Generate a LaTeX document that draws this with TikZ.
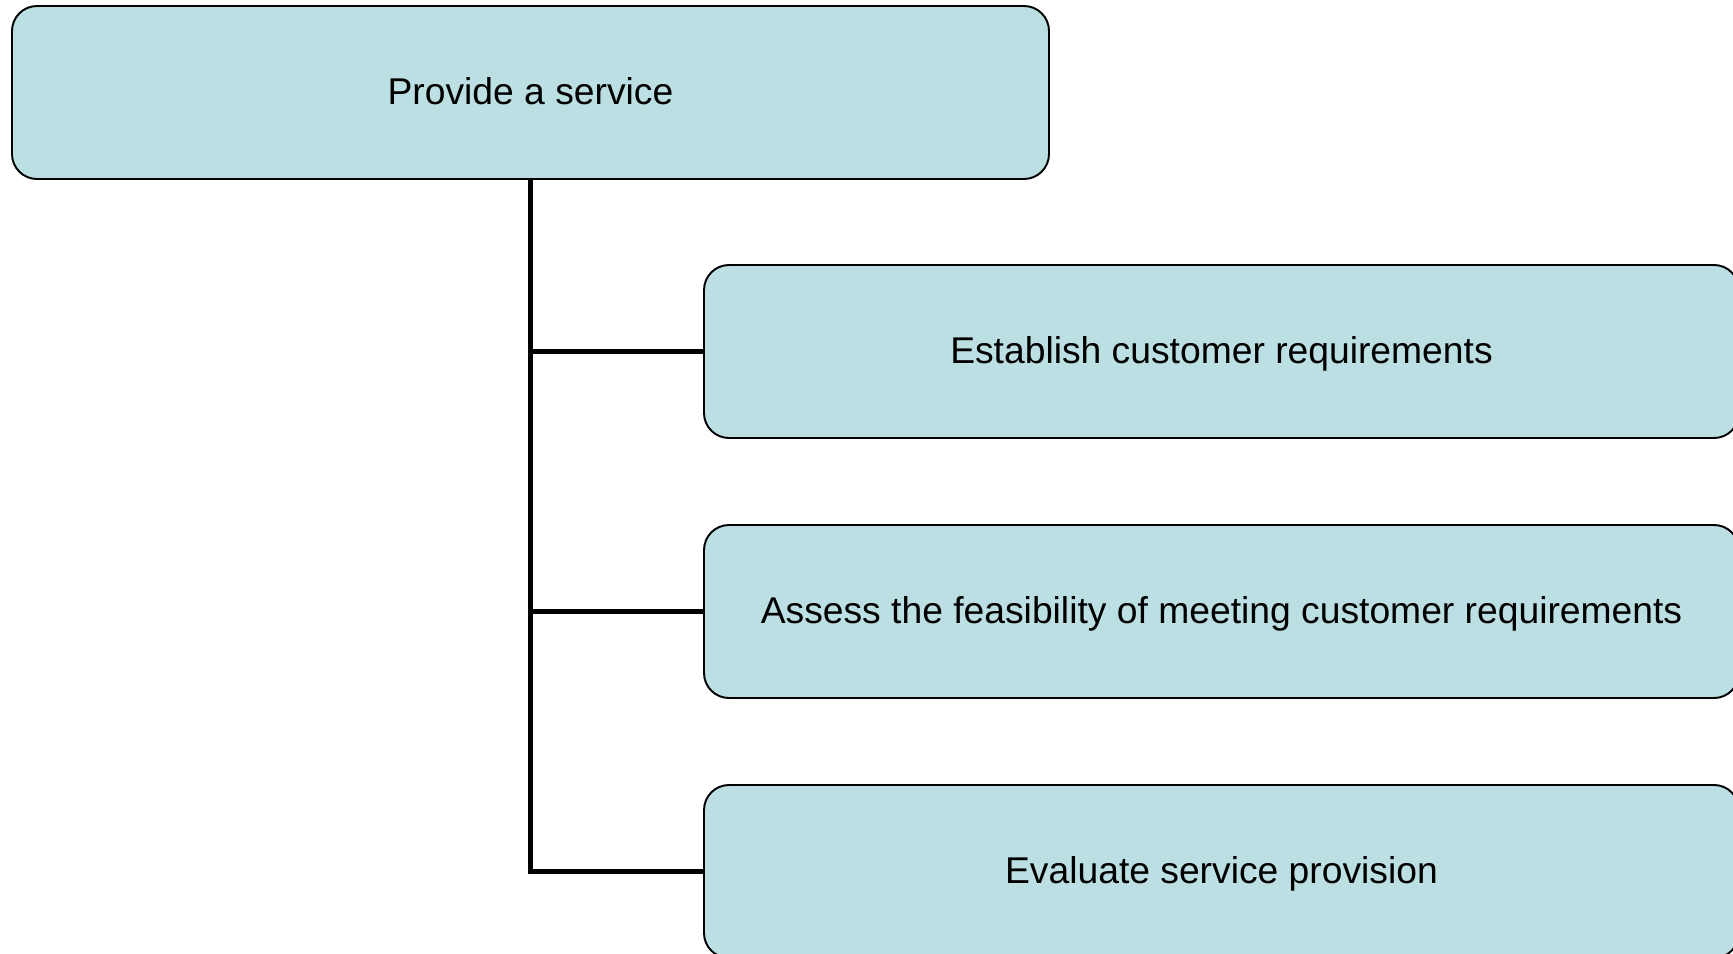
\documentclass[tikz,border=0pt]{standalone}
\usepackage{fontspec}
\setmainfont{Liberation Sans}
\usepackage{tikz}
\definecolor{boxfill}{RGB}{187,223,226}
\tikzset{
  task/.style={draw, rectangle, rounded corners=.5cm, fill=boxfill, line width=1.1pt,
    minimum width=20.7cm, minimum height=3.46cm, inner sep=0pt,
    text height=15.3pt, text depth=2.2pt,
    font=\fontsize{21.2}{25}\selectfont},
  link/.style={line width=3.4pt}
}

\begin{document}
\begin{tikzpicture}
\useasboundingbox (0,0) rectangle (34.66,-19.08);
\node[task, minimum width=20.74cm] (root) at (10.61,-1.85) {Provide a service};
\node[task, right of=root, xshift=12.82cm, yshift=-5.18cm] (req) {Establish customer requirements};
\node[task, below of=req, yshift=-4.2cm] (feas) {Assess the feasibility of meeting customer requirements};
\node[task, below of=feas, yshift=-4.2cm] (eval) {Evaluate service provision};
\draw [link] (root.south) |- (eval.west);
\draw [link] (root.south |- req.west) -- (req.west);
\draw [link] (root.south |- feas.west) -- (feas.west);
\end{tikzpicture}
\end{document}
